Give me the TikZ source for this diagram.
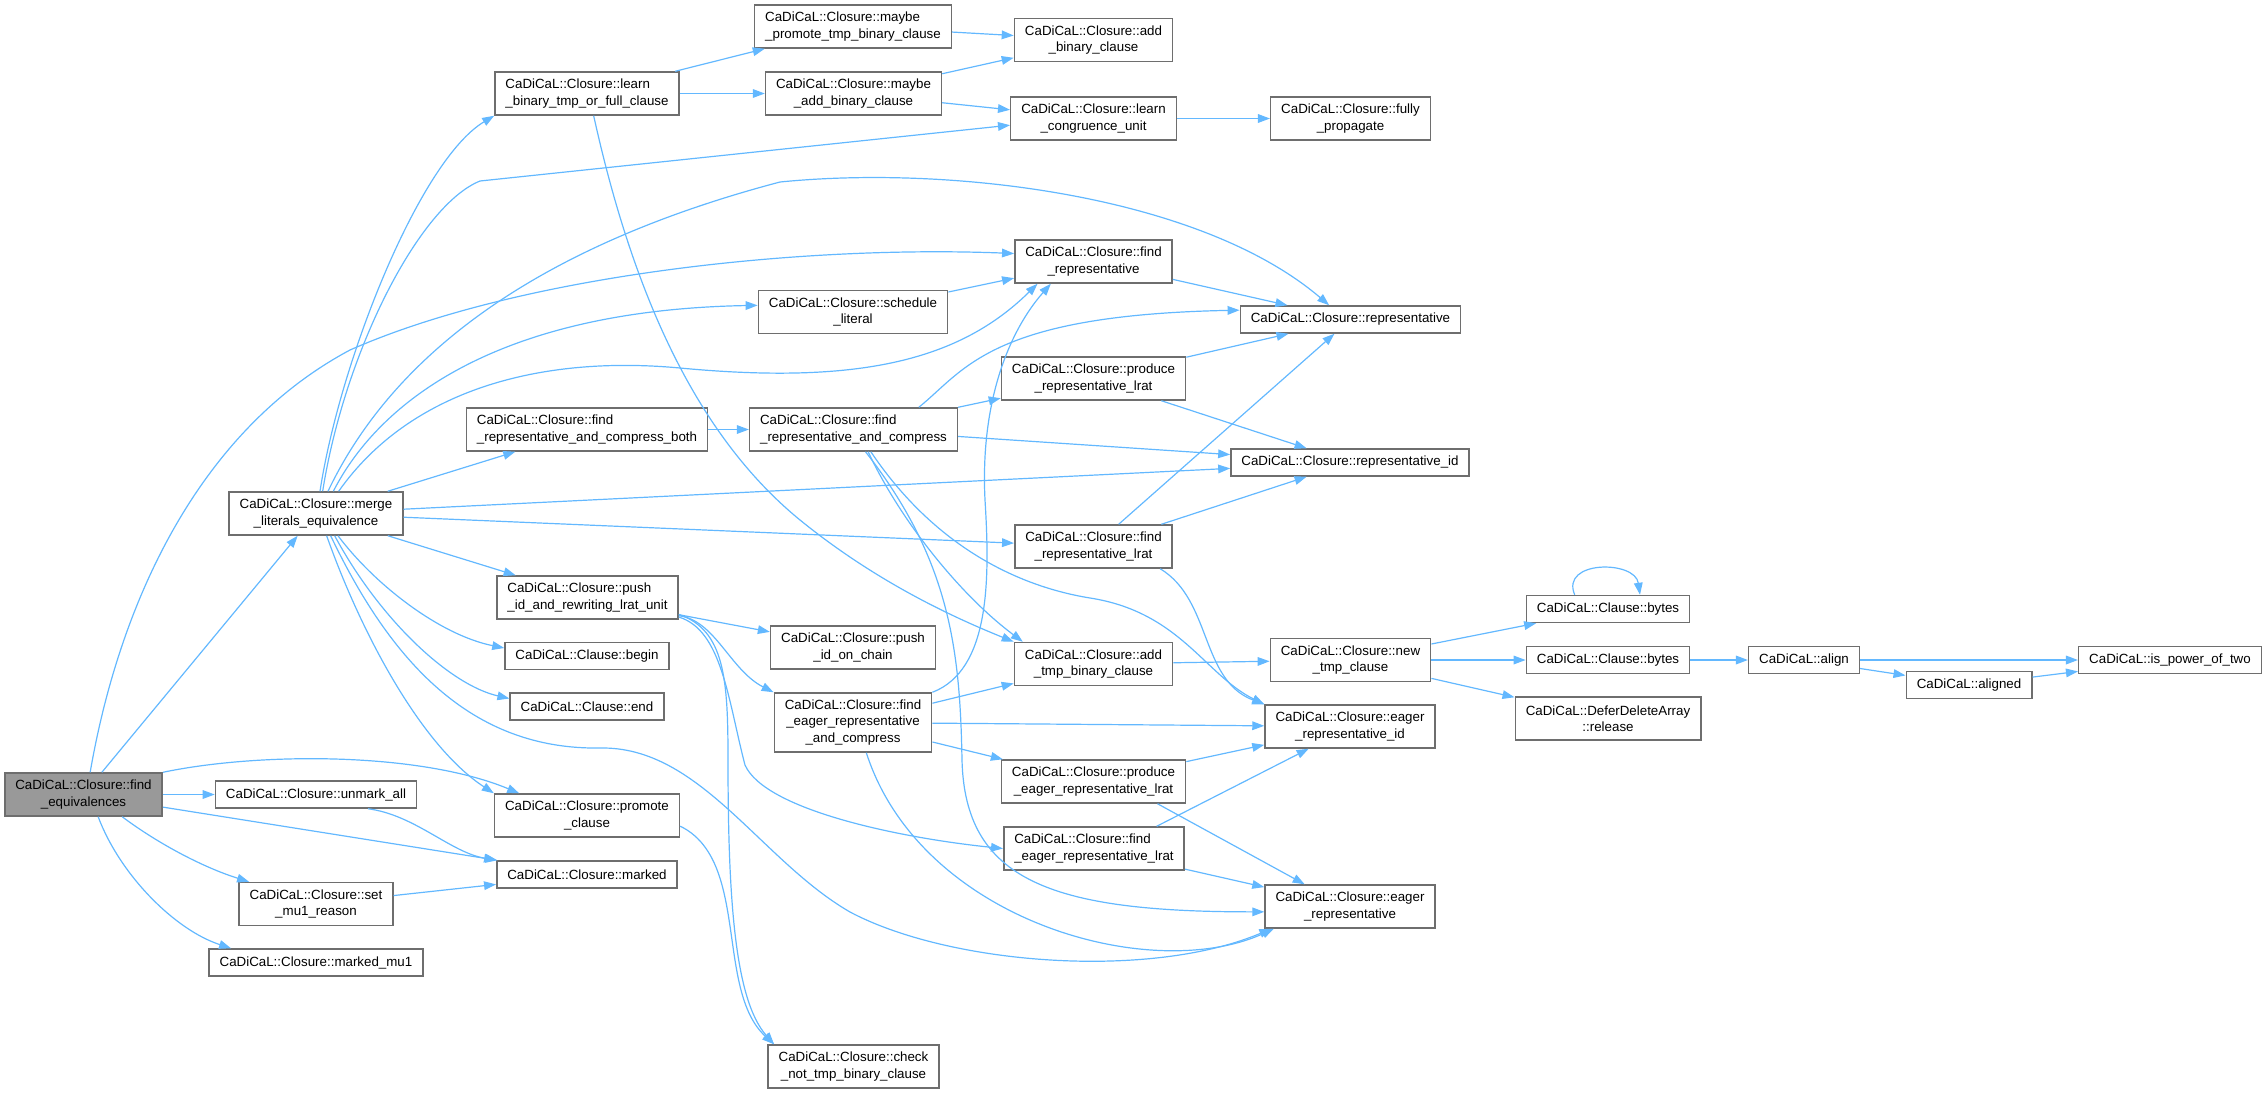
\documentclass[tikz,border=0pt]{standalone}
\usepackage{fontspec}
\setmainfont{Liberation Sans}
\usepackage{tikz}
\usetikzlibrary{arrows.meta}
\definecolor{callblue}{RGB}{99,184,255}
\definecolor{boxgray}{RGB}{110,110,110}
\definecolor{rootgray}{RGB}{153,153,153}

\begin{document}
\begin{tikzpicture}[x=0.75pt, y=-0.75pt,
  fn/.style={draw=boxgray, line width=1.1pt, fill=white, align=center,
    font=\fontsize{10pt}{12.4pt}\selectfont, inner xsep=7.9pt, inner ysep=1pt,
    minimum height=20.25pt},
  two/.style={minimum height=32.25pt},
  three/.style={minimum height=44.25pt},
  lft/.style={align=left},
  root/.style={fill=rootgray},
  call/.style={draw=callblue, line width=0.9pt, -{Triangle[length=9pt,width=6.5pt]}}]
\useasboundingbox (0,0) rectangle (2266,1093);

\node [fn, two, root] (fe) at (83.5,794.5) {CaDiCaL::Closure::find\\\_equivalences};
\node [fn, two] (mle) at (316,513.5) {CaDiCaL::Closure::merge\\\_literals\_equivalence};
\node [fn] (unmark) at (316,794.5) {CaDiCaL::Closure::unmark\_all};
\node [fn, two] (setmu) at (316,904) {CaDiCaL::Closure::set\\\_mu1\_reason};
\node [fn] (markedmu) at (316,962.5) {CaDiCaL::Closure::marked\_mu1};
\node [fn, two, lft] (learnbin) at (587,93.5) {CaDiCaL::Closure::learn\\\_binary\_tmp\_or\_full\_clause};
\node [fn, two, lft] (fcb) at (587,429.5) {CaDiCaL::Closure::find\\\_representative\_and\_compress\_both};
\node [fn, two, lft] (pushrw) at (587.5,597.5) {CaDiCaL::Closure::push\\\_id\_and\_rewriting\_lrat\_unit};
\node [fn] (clbegin) at (587,656) {CaDiCaL::Clause::begin};
\node [fn] (clend) at (587,706.5) {CaDiCaL::Clause::end};
\node [fn, two] (promote) at (587,815.5) {CaDiCaL::Closure::promote\\\_clause};
\node [fn] (marked) at (587,874.5) {CaDiCaL::Closure::marked};
\node [fn, two, lft] (mprom) at (853,26.5) {CaDiCaL::Closure::maybe\\\_promote\_tmp\_binary\_clause};
\node [fn, two] (madd) at (853.5,93.5) {CaDiCaL::Closure::maybe\\\_add\_binary\_clause};
\node [fn, two] (sched) at (853,312) {CaDiCaL::Closure::schedule\\\_literal};
\node [fn, two, lft] (fc) at (853.5,429.5) {CaDiCaL::Closure::find\\\_representative\_and\_compress};
\node [fn, two] (onchain) at (853,647.5) {CaDiCaL::Closure::push\\\_id\_on\_chain};
\node [fn, three] (fec) at (853,722.5) {CaDiCaL::Closure::find\\\_eager\_representative\\\_and\_compress};
\node [fn, two] (checknot) at (853.5,1066.5) {CaDiCaL::Closure::check\\\_not\_tmp\_binary\_clause};
\node [fn, two] (addbin) at (1093.5,40) {CaDiCaL::Closure::add\\\_binary\_clause};
\node [fn, two] (learncu) at (1093.5,118.5) {CaDiCaL::Closure::learn\\\_congruence\_unit};
\node [fn, two] (findrep) at (1093.5,261.5) {CaDiCaL::Closure::find\\\_representative};
\node [fn, two] (prodrep) at (1093.5,378.5) {CaDiCaL::Closure::produce\\\_representative\_lrat};
\node [fn, two] (findreplrat) at (1093.5,546.5) {CaDiCaL::Closure::find\\\_representative\_lrat};
\node [fn, two] (addtmp) at (1093.5,664) {CaDiCaL::Closure::add\\\_tmp\_binary\_clause};
\node [fn, two] (prodeager) at (1093.5,781.5) {CaDiCaL::Closure::produce\\\_eager\_representative\_lrat};
\node [fn, two, lft] (findeagerlrat) at (1094,848.5) {CaDiCaL::Closure::find\\\_eager\_representative\_lrat};
\node [fn, two] (fullyprop) at (1350.5,118.5) {CaDiCaL::Closure::fully\\\_propagate};
\node [fn] (repr) at (1350.5,319.5) {CaDiCaL::Closure::representative};
\node [fn] (reprid) at (1350,462.5) {CaDiCaL::Closure::representative\_id};
\node [fn, two] (newtmp) at (1350.5,660) {CaDiCaL::Closure::new\\\_tmp\_clause};
\node [fn, two] (eagerid) at (1350,726.5) {CaDiCaL::Closure::eager\\\_representative\_id};
\node [fn, two] (eager) at (1350,906.5) {CaDiCaL::Closure::eager\\\_representative};
\node [fn] (bytesa) at (1608,609) {CaDiCaL::Clause::bytes};
\node [fn] (bytesb) at (1608,660) {CaDiCaL::Clause::bytes};
\node [fn, two] (release) at (1608,718.5) {CaDiCaL::DeferDeleteArray\\::release};
\node [fn] (alignfn) at (1804,660) {CaDiCaL::align};
\node [fn] (aligned) at (1969,685) {CaDiCaL::aligned};
\node [fn] (pow2) at (2170,660) {CaDiCaL::is\_power\_of\_two};

\draw [call] (fe) -- (mle);
\draw [call] ([xshift=5pt]fe.north) .. controls (120,600) and (200,430) .. (350,350)
  .. controls (520,275) and (800,245) .. ([yshift=6pt]findrep.west);
\draw [call] (fe) -- (unmark);
\draw [call] (fe.north east) .. controls (260,752) and (420,752) .. ([xshift=19pt]promote.north west);
\draw [call] (fe) -- (marked);
\draw [call] ([xshift=29pt]fe.south) .. controls (160,845) and (205,868) .. ([xshift=8pt]setmu.north west);
\draw [call] ([xshift=11pt]fe.south) .. controls (120,875) and (175,930) .. ([xshift=17pt]markedmu.north west);
\draw [call] ([xshift=39pt]unmark.south) .. controls (415,815) and (450,852) .. (marked.north west);
\draw [call] (setmu) -- (marked);

\draw [call] ([xshift=3pt]mle.north) .. controls (340,360) and (420,160) .. (learnbin.south west);
\draw [call] ([xshift=5pt]mle.north) .. controls (345,350) and (420,205) .. (480,181) -- ([yshift=-5pt]learncu.west);
\draw [call] ([xshift=9pt]mle.north) .. controls (400,340) and (560,240) .. (780,182)
  .. controls (950,165) and (1200,195) .. ([xshift=-16pt]repr.north);
\draw [call] ([xshift=13pt]mle.north) .. controls (380,400) and (500,310) .. ([yshift=5pt]sched.west);
\draw [call] ([xshift=17pt]mle.north) .. controls (410,390) and (540,355) .. (680,368)
  .. controls (860,385) and (960,360) .. ([xshift=-42pt]findrep.south);
\draw [call] (mle) -- (fcb);
\draw [call] (mle) -- (reprid);
\draw [call] (mle) -- (findreplrat);
\draw [call] (mle) -- (pushrw);
\draw [call] ([xshift=16.5pt]mle.south) .. controls (375,585) and (440,635) .. ([yshift=6pt]clbegin.west);
\draw [call] ([xshift=14pt]mle.south) .. controls (380,620) and (450,685) .. ([yshift=6pt]clend.west);
\draw [call] ([xshift=8pt]mle.south) .. controls (360,630) and (420,745) .. (promote.north west);
\draw [call] ([xshift=11pt]mle.south) .. controls (390,660) and (470,750) .. (600,748)
  .. controls (700,746) and (760,860) .. (850,912)
  .. controls (950,965) and (1150,980) .. ([xshift=-59pt]eager.south);

\draw [call] (pushrw) -- (onchain);
\draw [call] ([yshift=3pt]pushrw.south east) .. controls (715,620) and (730,670) .. (fec.north west);
\draw [call] ([yshift=2pt]pushrw.south east) .. controls (722,630) and (728,700) .. (745,765)
  .. controls (765,810) and (900,838) .. (findeagerlrat.west);
\draw [call] ([yshift=4pt]pushrw.south east) .. controls (725,630) and (728,680) .. (728,760)
  .. controls (728,900) and (735,1000) .. ([xshift=5pt]checknot.north west);
\draw [call] ([yshift=-8pt]promote.east) .. controls (750,860) and (715,990) .. ([xshift=5pt]checknot.north west);

\draw [call] (fcb) -- (fc);
\draw [call] (learnbin) -- (mprom);
\draw [call] (learnbin) -- (madd);
\draw [call] ([xshift=5pt]learnbin.south) .. controls (630,280) and (690,430) .. (800,520)
  .. controls (880,585) and (960,620) .. (addtmp.north west);
\draw [call] (mprom) -- (addbin);
\draw [call] (madd) -- (addbin);
\draw [call] (madd) -- (learncu);
\draw [call] (learncu) -- (fullyprop);
\draw [call] (sched) -- (findrep);
\draw [call] (findrep) -- (repr);

\draw [call] ([xshift=49pt]fc.north) .. controls (965,370) and (990,315) .. ([yshift=7pt]repr.west);
\draw [call] (fc) -- (prodrep);
\draw [call] (fc) -- (reprid);
\draw [call] ([xshift=11pt]fc.south) .. controls (900,520) and (960,595) .. ([xshift=-53pt]addtmp.north);
\draw [call] ([xshift=13pt]fc.south) .. controls (930,540) and (1010,585) .. (1090,598)
  .. controls (1180,612) and (1205,675) .. (eagerid.north west);
\draw [call] ([xshift=9pt]fc.south) .. controls (950,560) and (960,650) .. (962,760)
  .. controls (965,880) and (1050,912) .. ([yshift=-4pt]eager.west);
\draw [call] (prodrep) -- (repr);
\draw [call] (prodrep) -- (reprid);
\draw [call] (findreplrat) -- (repr);
\draw [call] (findreplrat) -- (reprid);
\draw [call] ([xshift=50pt]findreplrat.south) .. controls (1212,600) and (1200,680) .. (eagerid.north west);

\draw [call] (fec.north east) .. controls (990,670) and (990,580) .. (985,500)
  .. controls (980,400) and (1010,330) .. ([xshift=-32pt]findrep.south);
\draw [call] (fec) -- (addtmp);
\draw [call] (fec) -- (eagerid);
\draw [call] (fec) -- (prodeager);
\draw [call] ([xshift=10pt]fec.south) .. controls (920,920) and (1150,985) .. ([xshift=-57pt]eager.south);
\draw [call] (prodeager) -- (eagerid);
\draw [call] ([xshift=48pt]prodeager.south) -- ([xshift=-34pt]eager.north);
\draw [call] ([xshift=47pt]findeagerlrat.north) -- ([xshift=-31pt]eagerid.south);
\draw [call] (findeagerlrat) -- (eager);

\draw [call] (addtmp) -- (newtmp);
\draw [call] (newtmp) -- (bytesa);
\draw [call] (newtmp) -- (bytesb);
\draw [call] (newtmp) -- (release);
\draw [call] ([xshift=-25pt]bytesa.north) .. controls (1560,560) and (1635,560) .. ([xshift=24pt]bytesa.north);
\draw [call] (bytesb) -- (alignfn);
\draw [call] (alignfn) -- (pow2);
\draw [call] (alignfn) -- (aligned);
\draw [call] (aligned) -- (pow2);
\end{tikzpicture}
\end{document}
